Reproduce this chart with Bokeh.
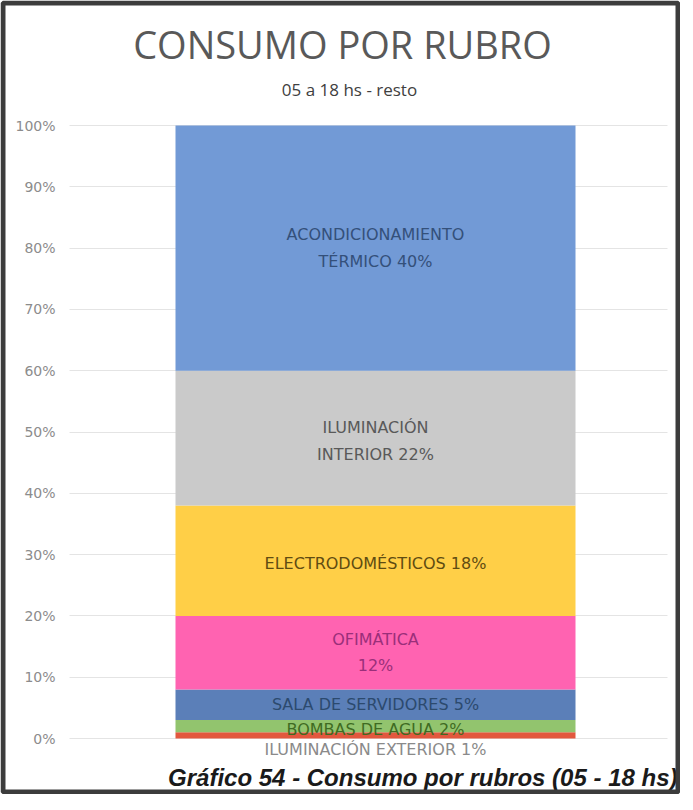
from bokeh.plotting import figure
from bokeh.models import Range1d, FixedTicker, ColumnDataSource, BoxAnnotation
from bokeh.core.properties import value
from bokeh.embed import file_html
from bokeh.resources import INLINE

# ---------------- data ----------------
group = ["05 a 18 hs - resto"]
categories = ["ILUMINACIÓN EXTERIOR", "BOMBAS DE AGUA", "SALA DE SERVIDORES",
              "OFIMÁTICA", "ELECTRODOMÉSTICOS", "ILUMINACIÓN INTERIOR",
              "ACONDICIONAMIENTO TÉRMICO"]
values = [1, 2, 5, 12, 18, 22, 40]
labels = ["ILUMINACIÓN EXTERIOR 1%", "BOMBAS DE AGUA 2%", "SALA DE SERVIDORES 5%",
          "OFIMÁTICA\n12%", "ELECTRODOMÉSTICOS 18%", "ILUMINACIÓN\nINTERIOR 22%",
          "ACONDICIONAMIENTO\nTÉRMICO 40%"]
tick_values = [0, 10, 20, 30, 40, 50, 60, 70, 80, 90, 100]
tick_labels = ["0%", "10%", "20%", "30%", "40%", "50%", "60%", "70%", "80%", "90%", "100%"]
title_text = "CONSUMO POR RUBRO"
subtitle_text = "05 a 18 hs - resto"
caption_text = "Gráfico 54 - Consumo por rubros (05 - 18 hs)"

# ---------------- styles / layout ----------------
fill_colors = ["#e2583e", "#92c46e", "#5b7fb8", "#ff63b1", "#ffcf47", "#cacaca", "#729ad6"]
label_colors = ["#8a8a8a", "#3f6b22", "#2c4a6e", "#9a2f7a", "#5f4c12", "#595959", "#34507a"]
label_offsets = [11, 3, 0, 0, 3, 3, 0]   # screen px, positive = down

W, H = 680, 794
BAR_W = 0.65
PX_PER_X = 400 / BAR_W      # bar is 400 px wide
BAR_CX = 375                # figure px of bar centre
PX_PER_PCT = 6.13
ZERO_Y = 738                # figure px of 0 %
y_lo = -(H - ZERO_Y) / PX_PER_PCT
y_hi = ZERO_Y / PX_PER_PCT
x_lo = -BAR_CX / PX_PER_X
x_hi = (W - BAR_CX) / PX_PER_X
axis_x = (63 - BAR_CX) / PX_PER_X
grid_x = ((69 - BAR_CX) / PX_PER_X, (667 - BAR_CX) / PX_PER_X)

xpos = list(range(len(group)))   # position of the single stacked bar

p = figure(width=W, height=H, title=None,
           x_range=Range1d(x_lo, x_hi),
           y_range=Range1d(y_lo, y_hi),
           x_axis_location=None,
           output_backend="svg", toolbar_location=None,
           min_border_left=0, min_border_right=0,
           min_border_top=0, min_border_bottom=0)
p.border_fill_color = "white"
p.background_fill_color = "white"
p.outline_line_color = None

p.extra_y_ranges = {"fy": Range1d(H, 0)}

ticker = FixedTicker(ticks=tick_values)
ax = p.yaxis[0]
ax.fixed_location = axis_x
ax.ticker = ticker
ax.major_label_overrides = {t: l for t, l in zip(tick_values, tick_labels)}
ax.axis_line_color = None
ax.major_tick_line_color = None
ax.minor_tick_line_color = None
ax.major_tick_out = 0
ax.major_tick_in = 0
ax.major_label_standoff = 8
ax.major_label_text_font = "DejaVu Sans"
ax.major_label_text_font_size = "14px"
ax.major_label_text_color = "#8c8c8c"

p.ygrid.ticker = ticker
p.ygrid.grid_line_color = "#e4e4e4"
if "cross_bounds" in p.ygrid[0].properties():
    p.ygrid.cross_bounds = grid_x
p.xgrid.grid_line_color = None

bottoms, tops, mids = [], [], []
acc = 0
for v in values:
    bottoms.append(acc)
    tops.append(acc + v)
    mids.append(acc + v / 2)
    acc += v
label_y = list(mids)
label_y[0] = bottoms[0]

src = ColumnDataSource(dict(x=xpos * len(values), bottom=bottoms, top=tops,
                            fill=fill_colors, lab=labels, ly=label_y,
                            lc=label_colors, lo=label_offsets))
p.vbar(x="x", bottom="bottom", top="top", width=BAR_W, fill_color="fill",
       line_color=None, source=src)
p.text(x="x", y="ly", text="lab", source=src, text_align="center",
       text_baseline="middle", text_color="lc", y_offset="lo",
       text_font=value("DejaVu Sans"), text_font_size="16px", text_line_height=1.4)

# titles / caption (x relative to the bar centre, in screen px)
p.text(x=xpos, y=[43], text=[title_text], y_range_name="fy", x_offset=-33,
       text_align="center", text_baseline="middle", text_color="#595959",
       text_font=value("Open Sans"), text_font_size="38px")
p.text(x=xpos, y=[89], text=[subtitle_text], y_range_name="fy", x_offset=-26,
       text_align="center", text_baseline="middle", text_color="#404040",
       text_font=value("Open Sans"), text_font_size="17px")
p.text(x=xpos, y=[777], text=[caption_text], y_range_name="fy", x_offset=302,
       text_align="right", text_baseline="middle", text_color="#1a1a1a",
       text_font=value("Liberation Sans"), text_font_size="24px",
       text_font_style="bold italic")

# outer frame of the figure
p.add_layout(BoxAnnotation(left=2.5, right=W - 2.5, top=2.5, bottom=H - 2.5,
                           left_units="canvas", right_units="canvas",
                           top_units="canvas", bottom_units="canvas",
                           fill_color=None, fill_alpha=0,
                           line_color="#3c3c3c", line_alpha=1.0, line_width=5))

open("out.html", "w").write(file_html(p, INLINE))
